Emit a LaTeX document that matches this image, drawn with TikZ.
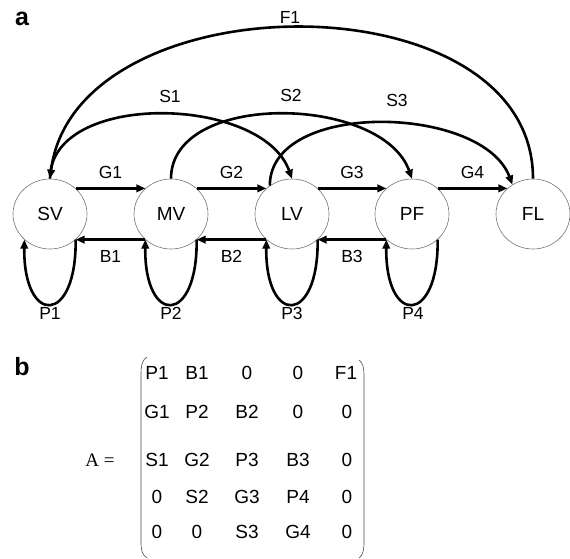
\documentclass[tikz,border=0pt]{standalone}
\usepackage{fontspec}
\setmainfont{Liberation Sans}
\newfontfamily\serifA{Liberation Serif}
\usetikzlibrary{shapes.geometric,arrows.meta}
\begin{document}
\begin{tikzpicture}[x=1pt,y=-1pt,
  state/.style={ellipse,draw=black!55,line width=0.6pt,minimum width=74pt,minimum height=70pt,inner sep=0pt,font=\fontsize{19}{19}\selectfont},
  lbl/.style={font=\fontsize{17.5}{17.5}\selectfont,inner sep=0pt},
  ent/.style={font=\fontsize{19}{19}\selectfont,inner sep=0pt},
  panel/.style={font=\fontsize{25}{25}\selectfont\bfseries,inner sep=0pt},
  straight/.style={line width=3pt,-{Triangle[length=9pt,width=7.5pt]}},
  curve/.style={line width=2.6pt,-{Triangle[length=9pt,width=7.5pt]}},
  paren/.style={line width=0.6pt,draw=black!70}
]
\useasboundingbox (0,0) rectangle (570,559);
% panel letters
\node[panel] (pa) at (22,19) {a};
\node[panel] (pb) at (22,367) {b};
% states
\node[state] (SV) at (50,214) {SV};
\node[state] (MV) at (171,214) {MV};
\node[state] (LV) at (292,214) {LV};
\node[state] (PF) at (412,214) {PF};
\node[state] (FL) at (533,214) {FL};
% forward G
\draw[straight] (SV.45) -- node[lbl,above=8pt] (g1) {G1} (MV.135);
\draw[straight] (MV.45) -- node[lbl,above=8pt] (g2) {G2} (LV.135);
\draw[straight] (LV.45) -- node[lbl,above=8pt] (g3) {G3} (PF.135);
\draw[straight] (PF.45) -- node[lbl,above=8pt] (g4) {G4} (FL.135);
% backward B
\draw[straight] (MV.-135) -- node[lbl,below=9pt] (b1) {B1} (SV.-45);
\draw[straight] (LV.-135) -- node[lbl,below=9pt] (b2) {B2} (MV.-45);
\draw[straight] (PF.-135) -- node[lbl,below=9pt] (b3) {B3} (LV.-45);
% loops P
\draw[curve] (SV.-45) .. controls +(1,86) and +(-1,86) .. (SV.-135);
\draw[curve] (MV.-45) .. controls +(1,86) and +(-1,86) .. (MV.-135);
\draw[curve] (LV.-45) .. controls +(1,86) and +(-1,86) .. (LV.-135);
\draw[curve] (PF.-45) .. controls +(1,86) and +(-1,86) .. (PF.-135);
\node[lbl] (p1) at (50,313) {P1};
\node[lbl] (p2) at (171,313) {P2};
\node[lbl] (p3) at (292,313) {P3};
\node[lbl] (p4) at (413,313) {P4};
% skips S
\draw[curve] (SV.north) .. controls +(0,-88) and +(-30,-84) .. (LV.north);
\draw[curve] (MV.north) .. controls +(0,-88) and +(-30,-84) .. (PF.north);
\draw[curve] (LV.128) .. controls +(0,-86) and +(-30,-80) .. (FL.125);
\node[lbl] (s1) at (170,96) {S1};
\node[lbl] (s2) at (291,95) {S2};
\node[lbl] (s3) at (397,100) {S3};
% feedback F
\draw[curve] (FL.north) .. controls +(0,-203) and +(25,-200) .. (SV.north);
\node[lbl] (f1) at (290,17) {F1};
% matrix
\node[font=\fontsize{19}{19}\selectfont\serifA,inner sep=0pt] (Aeq) at (100,460) {A =};
\draw[paren] (147,357) .. controls (142,360) and (141,366) .. (141,374) -- (141,542) .. controls (141,550) and (142,555) .. (147,558);
\draw[paren] (359,360) .. controls (363,363) and (364,368) .. (364,376) -- (364,542) .. controls (364,550) and (363,555) .. (359,558);
\node[ent] (m11) at (157,373) {P1};
\node[ent] (m12) at (197,373) {B1};
\node[ent] (m13) at (247,373) {0};
\node[ent] (m14) at (298,373) {0};
\node[ent] (m15) at (346,373) {F1};
\node[ent] (m21) at (157,412) {G1};
\node[ent] (m22) at (197,412) {P2};
\node[ent] (m23) at (247,412) {B2};
\node[ent] (m24) at (298,412) {0};
\node[ent] (m25) at (347,412) {0};
\node[ent] (m31) at (157,460) {S1};
\node[ent] (m32) at (197,460) {G2};
\node[ent] (m33) at (247,460) {P3};
\node[ent] (m34) at (298,460) {B3};
\node[ent] (m35) at (347,460) {0};
\node[ent] (m41) at (157,497) {0};
\node[ent] (m42) at (197,497) {S2};
\node[ent] (m43) at (247,497) {G3};
\node[ent] (m44) at (298,497) {P4};
\node[ent] (m45) at (347,497) {0};
\node[ent] (m51) at (157,532) {0};
\node[ent] (m52) at (197,532) {0};
\node[ent] (m53) at (247,532) {S3};
\node[ent] (m54) at (298,532) {G4};
\node[ent] (m55) at (347,532) {0};
\end{tikzpicture}
\end{document}
